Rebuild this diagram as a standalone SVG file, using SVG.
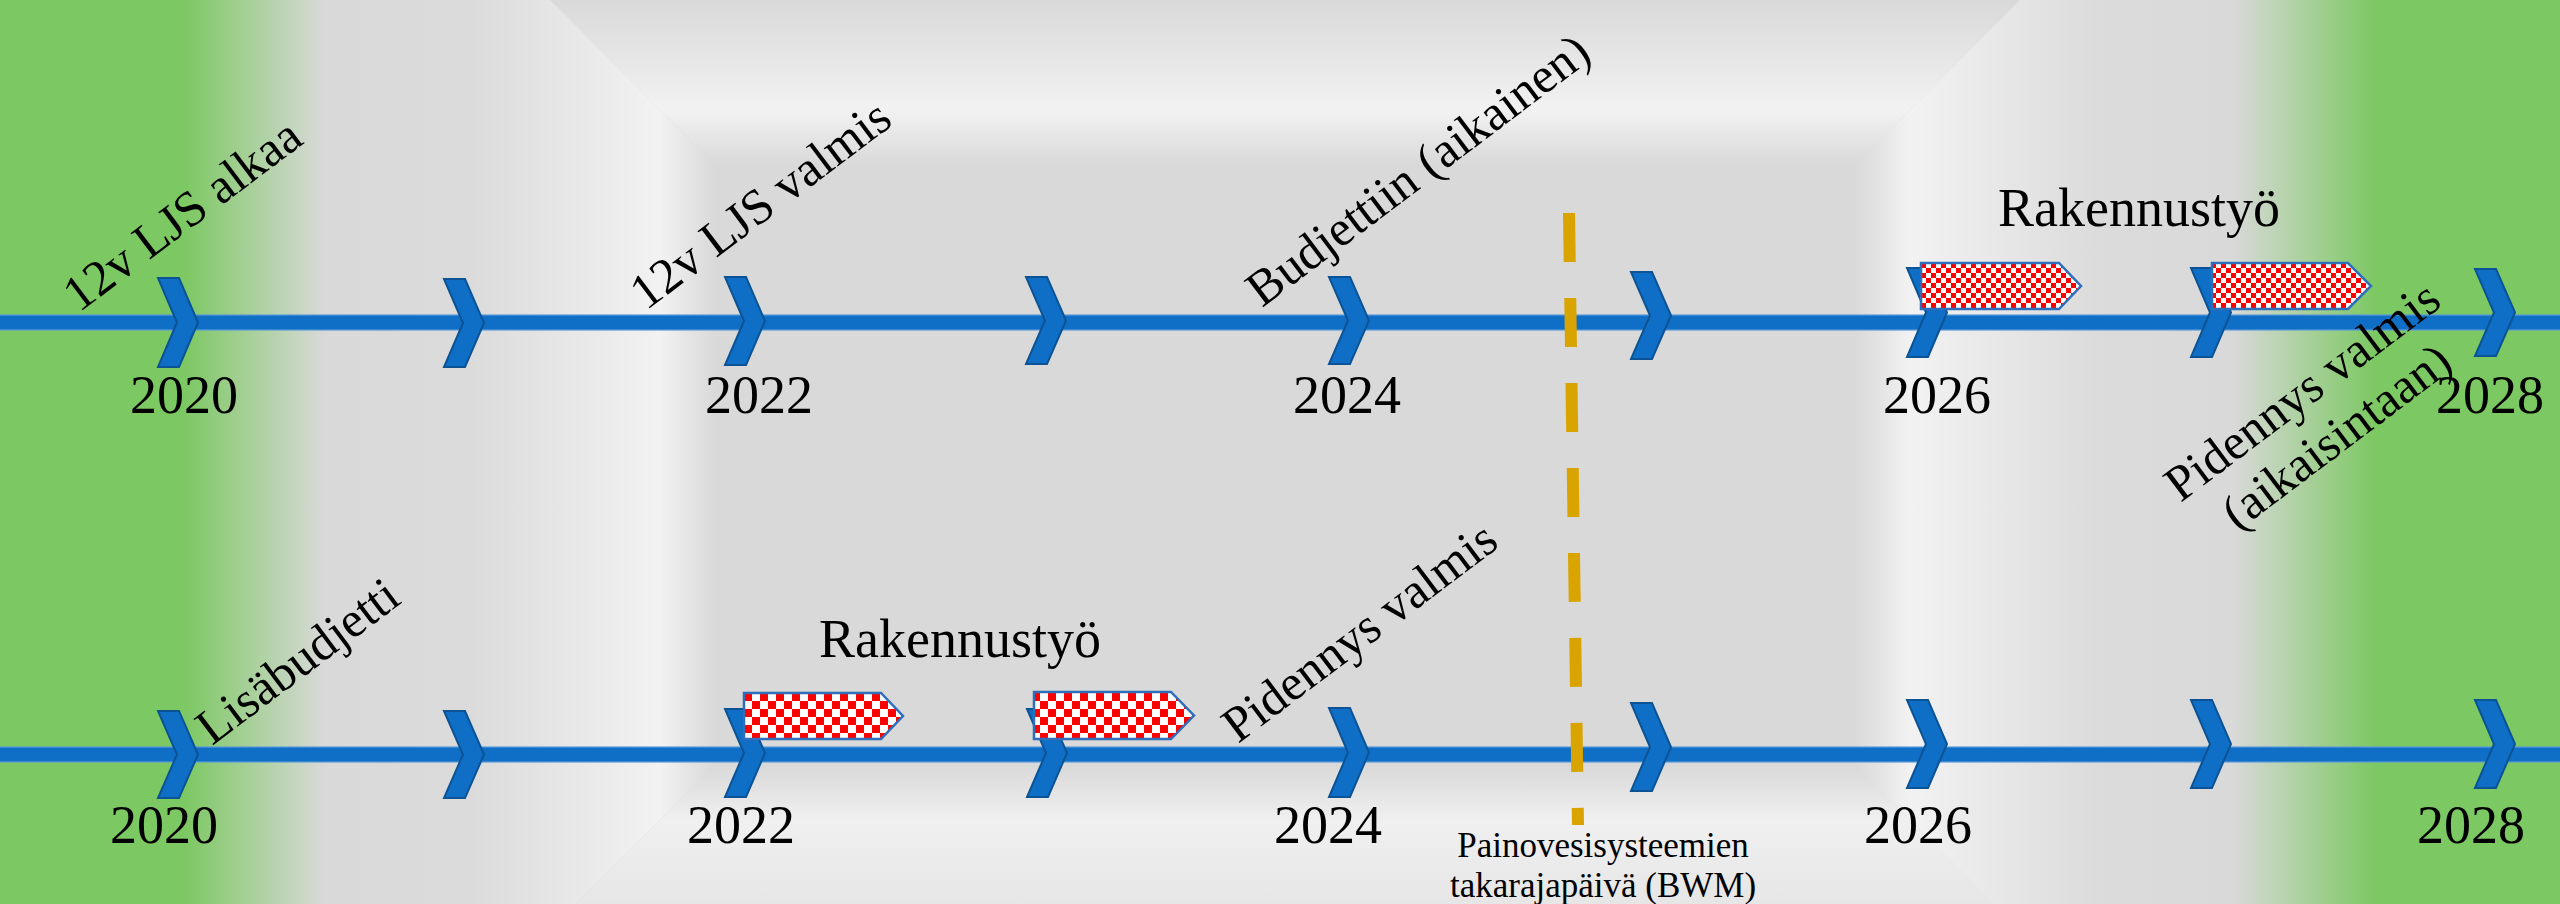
<svg xmlns="http://www.w3.org/2000/svg" width="2560" height="904" viewBox="0 0 2560 904">
<style>
.lbl{font-family:"Liberation Serif","Times New Roman",serif;font-size:50px;fill:#000}
.lblc{font-family:"Liberation Serif","Times New Roman",serif;font-size:50px;fill:#000;text-anchor:middle}
.yr{font-family:"Liberation Serif","Times New Roman",serif;font-size:54px;fill:#000;text-anchor:middle}
.small{font-family:"Liberation Serif","Times New Roman",serif;font-size:35px;fill:#000;text-anchor:middle}
.chev{fill:#0F6FC6;stroke:#0B5394;stroke-width:2;stroke-linejoin:miter}
.axis{fill:#0F6FC6;stroke:#5C9BD9;stroke-width:1.2}
.redS{fill:url(#chkS);stroke:#2F6EBA;stroke-width:2.5}
.redL{fill:url(#chkL);stroke:#2F6EBA;stroke-width:2.5}
</style>
<defs>
<pattern id="chkS" x="1921" y="263" width="10" height="10" patternUnits="userSpaceOnUse">
<rect width="10" height="10" fill="#fff"/><rect width="5" height="5" fill="#f00"/><rect x="5" y="5" width="5" height="5" fill="#f00"/>
</pattern>
<pattern id="chkL" x="744" y="693" width="16" height="16" patternUnits="userSpaceOnUse">
<rect width="16" height="16" fill="#fff"/><rect width="8" height="8" fill="#f00"/><rect x="8" y="8" width="8" height="8" fill="#f00"/>
</pattern>
<linearGradient id="gTop" gradientUnits="userSpaceOnUse" x1="0" y1="0" x2="0" y2="165">
<stop offset="0" stop-color="#d9d9d9"/><stop offset="0.667" stop-color="#f2f2f2"/><stop offset="1" stop-color="#d9d9d9"/>
</linearGradient>
<linearGradient id="gBot" gradientUnits="userSpaceOnUse" x1="0" y1="765" x2="0" y2="904">
<stop offset="0" stop-color="#d9d9d9"/><stop offset="0.4" stop-color="#f0f0f0"/><stop offset="1" stop-color="#e6e6e6"/>
</linearGradient>
<linearGradient id="gLeft" gradientUnits="userSpaceOnUse" x1="320" y1="0" x2="715" y2="0">
<stop offset="0" stop-color="#d9d9d9"/><stop offset="0.38" stop-color="#dbdbdb"/><stop offset="0.86" stop-color="#f2f2f2"/><stop offset="1" stop-color="#d9d9d9"/>
</linearGradient>
<linearGradient id="gRight" gradientUnits="userSpaceOnUse" x1="1855" y1="0" x2="2250" y2="0">
<stop offset="0" stop-color="#d9d9d9"/><stop offset="0.14" stop-color="#f2f2f2"/><stop offset="0.62" stop-color="#dbdbdb"/><stop offset="1" stop-color="#d9d9d9"/>
</linearGradient>
<linearGradient id="gGreenL" gradientUnits="userSpaceOnUse" x1="0" y1="0" x2="325" y2="0">
<stop offset="0" stop-color="#7cc862"/><stop offset="0.566" stop-color="#7cc862"/><stop offset="1" stop-color="#7cc862" stop-opacity="0"/>
</linearGradient>
<linearGradient id="gGreenR" gradientUnits="userSpaceOnUse" x1="2232" y1="0" x2="2560" y2="0">
<stop offset="0" stop-color="#7cc862" stop-opacity="0"/><stop offset="0.44" stop-color="#7cc862"/><stop offset="1" stop-color="#7cc862"/>
</linearGradient>
</defs>

<g id="background">
<rect x="0" y="0" width="2560" height="904" fill="#d9d9d9"/>
<polygon points="550,0 2020,0 1910,110 1855,165 715,165 660,110" fill="url(#gTop)"/>
<polygon points="576,904 1994,904 1910,820 1855,765 715,765 660,820" fill="url(#gBot)"/>
<polygon points="0,0 550,0 660,110 715,165 715,765 660,820 576,904 0,904" fill="url(#gLeft)"/>
<polygon points="2020,0 2560,0 2560,904 1994,904 1910,820 1855,765 1855,165 1910,110" fill="url(#gRight)"/>
<rect x="0" y="0" width="325" height="904" fill="url(#gGreenL)"/>
<rect x="2232" y="0" width="328" height="904" fill="url(#gGreenR)"/>
</g>

<g id="connectors">
<rect class="axis" x="-2" y="315" width="2564" height="15"/>
<rect class="axis" x="-2" y="747" width="2564" height="15"/>
<line x1="1569" y1="213" x2="1578" y2="825" stroke="#D9A400" stroke-width="12" stroke-dasharray="49 36"/>
</g>

<g id="ticks-top">
<polygon class="chev" points="158,278 179,278 198,322.5 179,367 158,367 177,322.5"/>
<polygon class="chev" points="444,279 465,279 484,323 465,367 444,367 463,323"/>
<polygon class="chev" points="725,277 746,277 765,321 746,365 725,365 744,321"/>
<polygon class="chev" points="1026,277 1047,277 1066,320.5 1047,364 1026,364 1045,320.5"/>
<polygon class="chev" points="1329,277 1350,277 1369,320.5 1350,364 1329,364 1348,320.5"/>
<polygon class="chev" points="1631,272 1652,272 1671,315.5 1652,359 1631,359 1650,315.5"/>
<polygon class="chev" points="1907,268 1928,268 1947,312.5 1928,357 1907,357 1926,312.5"/>
<polygon class="chev" points="2191,268 2212,268 2231,312.5 2212,357 2191,357 2210,312.5"/>
<polygon class="chev" points="2475,269 2496,269 2515,312.5 2496,356 2475,356 2494,312.5"/>
</g>

<g id="ticks-bottom">
<polygon class="chev" points="158,711 179,711 198,754.5 179,798 158,798 177,754.5"/>
<polygon class="chev" points="444,711 465,711 484,754.5 465,798 444,798 463,754.5"/>
<polygon class="chev" points="725,709 746,709 765,753 746,797 725,797 744,753"/>
<polygon class="chev" points="1027,709 1048,709 1067,753 1048,797 1027,797 1046,753"/>
<polygon class="chev" points="1329,708 1350,708 1369,752.5 1350,797 1329,797 1348,752.5"/>
<polygon class="chev" points="1631,703 1652,703 1671,747 1652,791 1631,791 1650,747"/>
<polygon class="chev" points="1907,700 1928,700 1947,744 1928,788 1907,788 1926,744"/>
<polygon class="chev" points="2191,700 2212,700 2231,744 2212,788 2191,788 2210,744"/>
<polygon class="chev" points="2475,700 2496,700 2515,744 2496,788 2475,788 2494,744"/>
</g>

<g id="rakennus-top">
<polygon class="redS" points="1921,263 2059,263 2081,286 2059,309 1921,309"/>
<polygon class="redS" points="2212,263 2348,263 2371,286 2348,309 2212,309"/>
<text class="yr" x="2139" y="226">Rakennustyö</text>
</g>

<g id="rakennus-bottom">
<polygon class="redL" points="744,693 881,693 903,716 881,739 744,739"/>
<polygon class="redL" points="1034,692 1171,692 1194,715.5 1171,739 1034,739"/>
<text class="yr" x="960" y="657">Rakennustyö</text>
</g>

<g id="years-top">
<text class="yr" x="184" y="413">2020</text>
<text class="yr" x="759" y="413">2022</text>
<text class="yr" x="1347" y="413">2024</text>
<text class="yr" x="1937" y="413">2026</text>
<text class="yr" x="2490" y="413">2028</text>
</g>

<g id="years-bottom">
<text class="yr" x="164" y="843">2020</text>
<text class="yr" x="741" y="843">2022</text>
<text class="yr" x="1328" y="843">2024</text>
<text class="yr" x="1918" y="843">2026</text>
<text class="yr" x="2471" y="843">2028</text>
</g>

<g id="label-ljs-alkaa"><text class="lbl" transform="translate(79,313) rotate(-37)">12v LJS alkaa</text></g>
<g id="label-ljs-valmis"><text class="lbl" transform="translate(646,311) rotate(-37)">12v LJS valmis</text></g>
<g id="label-budjettiin"><text class="lbl" transform="translate(1262,308) rotate(-37)">Budjettiin (aikainen)</text></g>
<g id="label-lisabudjetti"><text class="lbl" transform="translate(212,746) rotate(-37)">Lisäbudjetti</text></g>
<g id="label-pidennys"><text class="lbl" transform="translate(1238,744) rotate(-37)">Pidennys valmis</text></g>
<g id="label-pidennys-aikaisintaan" transform="translate(2312,404) rotate(-37)">
<text class="lblc" x="0" y="0">Pidennys valmis</text>
<text class="lblc" x="0" y="57">(aikaisintaan)</text>
</g>
<g id="label-bwm">
<text class="small" x="1603" y="857">Painovesisysteemien</text>
<text class="small" x="1603" y="897">takarajapäivä (BWM)</text>
</g>
</svg>
